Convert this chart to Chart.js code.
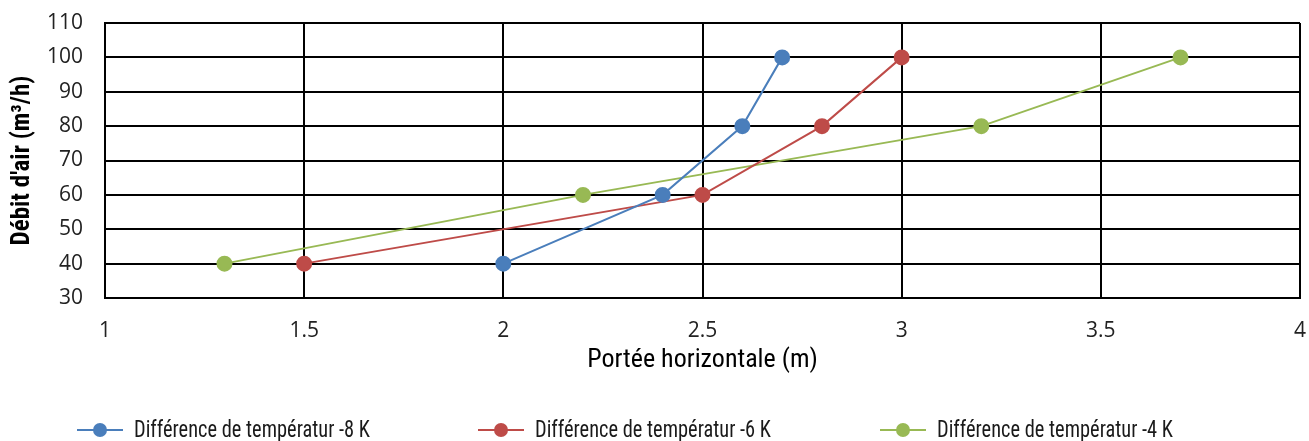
<!DOCTYPE html>
<html><head><meta charset="utf-8">
<script src="https://cdn.jsdelivr.net/npm/chart.js@4/dist/chart.umd.min.js"></script>
<style>html,body{margin:0;padding:0;background:#fff;}#wrap{width:1309px;height:441px;}</style>
</head><body><div id="wrap"><canvas id="c" width="1309" height="441"></canvas></div>
<script>
const seriesNames = ['Différence de températur -8 K','Différence de températur -6 K','Différence de températur -4 K'];
const yValues = [40, 60, 80, 100];
const xMinus8 = [2.0, 2.4, 2.6, 2.7];
const xMinus6 = [1.5, 2.5, 2.8, 3.0];
const xMinus4 = [1.3, 2.2, 3.2, 3.7];
const seriesColors = ['#4a7ebb', '#be4b48', '#98b954'];
const xTitle = 'Portée horizontale (m)';
const yTitle = "Débit d'air (m³/h)";

const TICKFONT = "'Open Sans', sans-serif";
const COND = "'Roboto Condensed', 'Roboto', sans-serif";
const xSets = [xMinus8, xMinus6, xMinus4];
const datasets = xSets.map((xs, i) => ({
  label: seriesNames[i],
  data: xs.map((x, j) => ({x: x, y: yValues[j]})),
  showLine: true,
  borderColor: seriesColors[i],
  backgroundColor: seriesColors[i],
  pointBackgroundColor: seriesColors[i],
  pointBorderColor: seriesColors[i],
  borderWidth: 2,
  pointRadius: 7,
  pointHoverRadius: 7,
  tension: 0
}));

const legendStarts = [77, 478, 880];
const legendTextWidth = 236;
const legendPlugin = {
  id: 'customLegend',
  afterDraw(chart) {
    const ctx = chart.ctx;
    const y = 430;
    ctx.save();
    chart.data.datasets.forEach((ds, i) => {
      const x0 = legendStarts[i];
      ctx.strokeStyle = ds.borderColor;
      ctx.lineWidth = 2;
      ctx.beginPath(); ctx.moveTo(x0, y); ctx.lineTo(x0 + 46, y); ctx.stroke();
      ctx.fillStyle = ds.borderColor;
      ctx.beginPath(); ctx.arc(x0 + 23, y, 7, 0, Math.PI * 2); ctx.fill();
      ctx.fillStyle = '#1a1a1a';
      ctx.font = '23px ' + COND;
      ctx.textBaseline = 'middle';
      ctx.textAlign = 'left';
      const w = ctx.measureText(ds.label).width;
      const sx = Math.min(1, legendTextWidth / w);
      ctx.save();
      ctx.translate(x0 + 57, y);
      ctx.scale(sx, 1);
      ctx.fillText(ds.label, 0, 1);
      ctx.restore();
    });
    ctx.restore();
  }
};

function zeroPad(s) { s.paddingLeft = 0; s.paddingRight = 0; s.paddingTop = 0; s.paddingBottom = 0; }

new Chart(document.getElementById('c'), {
  type: 'scatter',
  data: { datasets },
  options: {
    responsive: false,
    animation: false,
    devicePixelRatio: 1,
    layout: { padding: { left: 0, right: 9, top: 23, bottom: 55 } },
    plugins: { legend: { display: false }, tooltip: { enabled: false } },
    scales: {
      x: {
        type: 'linear', min: 1, max: 4,
        ticks: { stepSize: 0.5, padding: 20, color: '#222', font: { family: TICKFONT, size: 21 }, callback: v => String(v) },
        grid: { color: '#000', lineWidth: 2, drawTicks: false },
        border: { color: '#000', width: 2 },
        title: { display: true, text: xTitle, color: '#000', font: { family: COND, size: 26 }, padding: { top: 0, bottom: 10 } },
        afterFit(s) { s.height = 88; zeroPad(s); }
      },
      y: {
        type: 'linear', min: 30, max: 110,
        ticks: { stepSize: 10, padding: 22, color: '#222', font: { family: TICKFONT, size: 21 } },
        grid: { color: '#000', lineWidth: 2, drawTicks: false },
        border: { color: '#000', width: 2 },
        title: { display: true, text: yTitle, color: '#000', font: { family: COND, size: 25, weight: 'bold' }, padding: { top: 8, bottom: 0 } },
        afterFit(s) { s.width = 105; zeroPad(s); }
      }
    }
  },
  plugins: [legendPlugin]
});
</script></body></html>
